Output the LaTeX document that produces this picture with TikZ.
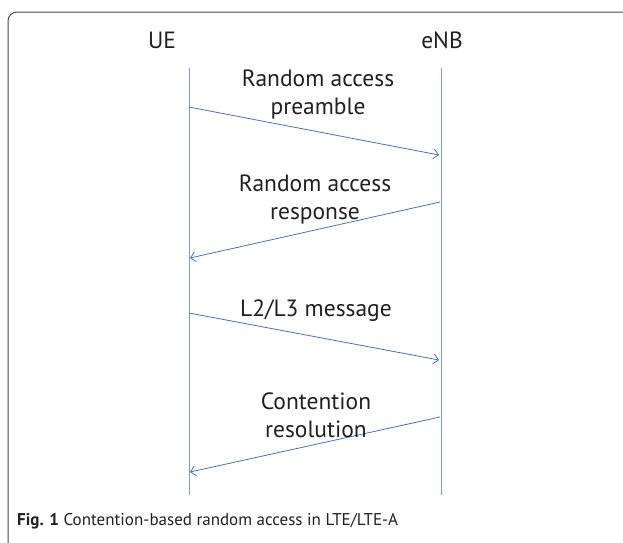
\documentclass[tikz,border=0pt]{standalone}
\usepackage{fontspec}
\setmainfont{PT Sans}
\usetikzlibrary{arrows.meta}
\definecolor{msgblue}{RGB}{68,114,196}
\definecolor{lifeblue}{RGB}{120,160,215}
\definecolor{txtgray}{RGB}{35,31,32}
\tikzset{
  lbl/.style = {text = txtgray, font = \fontsize{23.5}{28}\selectfont, align = center, inner sep = 0pt},
  msg/.style = {msgblue, line width = 0.8pt, -{Straight Barb[length = 5pt, width = 10pt]}},
  life/.style = {lifeblue, line width = 1pt}
}
\begin{document}
\begin{tikzpicture}[x = 1pt, y = -1pt]
		\useasboundingbox (0,0) rectangle (623,542);
		\draw[black!70, line width = 1pt, rounded corners = 9pt] (8,600) -- (8,12) -- (700,12);
		
		\node[lbl] (UE) at (162,40) {UE};
		\node[lbl] (eNB) at (442,40) {eNB};
		
		\coordinate (UEtop) at (189,68);
		\coordinate (UEbot) at (189,495);
		\coordinate (eNBtop) at (441,68);
		\coordinate (eNBbot) at (441,495);
		\draw[life] (UEtop) -- (UEbot);
		\draw[life] (eNBtop) -- (eNBbot);
		
		\coordinate (A) at (189,107);
		\coordinate (B) at (439,155);
		\coordinate (C) at (440,202);
		\coordinate (D) at (190,258);
		\coordinate (E) at (189,313);
		\coordinate (F) at (439,360);
		\coordinate (G) at (440,417);
		\coordinate (H) at (190,472);
		
		\draw[msg] (A) -- (B);
		\draw[msg] (C) -- (D);
		\draw[msg] (E) -- (F);
		\draw[msg] (G) -- (H);
		
		\node[lbl] (preamble) at (318,95) {Random access\\preamble};
		\node[lbl] (response) at (315,200) {Random access\\response};
		\node[lbl] (l2l3) at (316,311) {L2/L3 message};
		\node[lbl] (resolution) at (316,415) {Contention\\resolution};
		
		\node[text = txtgray, anchor = west, inner sep = 0pt, font = \fontsize{17}{20}\selectfont] (caption) at (17,521) {\textbf{Fig. 1} Contention-based random access in LTE/LTE-A};
	\end{tikzpicture}
\end{document}
